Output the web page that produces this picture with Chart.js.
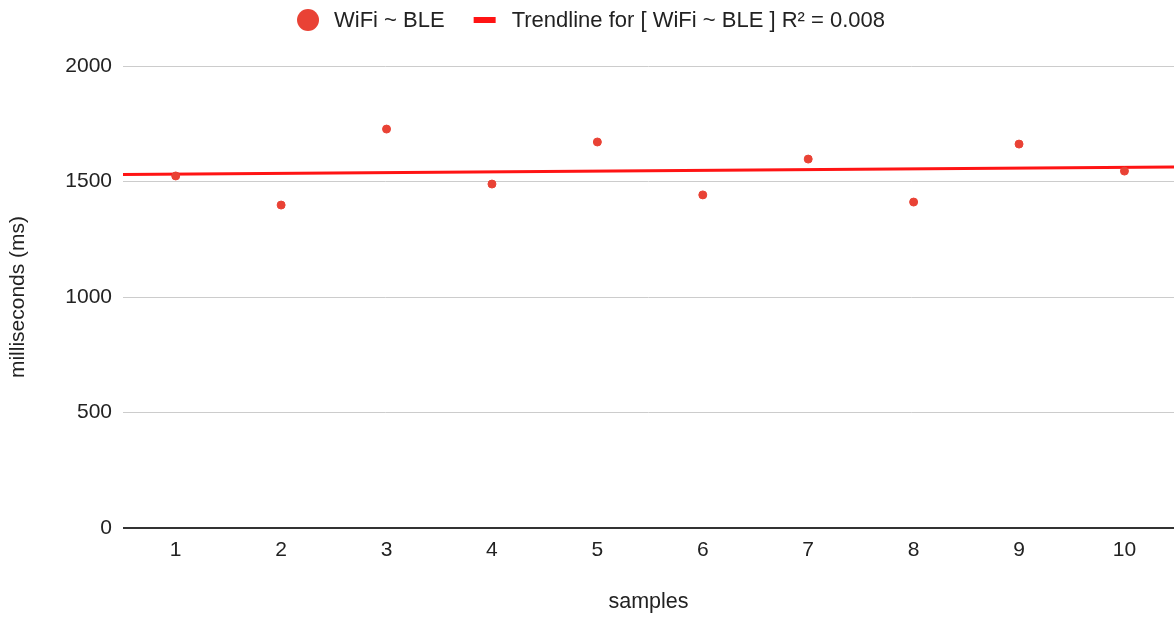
<!DOCTYPE html>
<html>
<head>
<meta charset="utf-8">
<title>WiFi ~ BLE</title>
<script src="https://cdn.jsdelivr.net/npm/chart.js@4"></script>
<style>
  html, body { margin: 0; padding: 0; background: #ffffff; overflow: hidden; }
  #wrap { position: relative; width: 1174px; height: 617px; overflow: hidden; }
  #chart { display: block; }
</style>
</head>
<body>
<div id="wrap"><canvas id="chart" width="1179" height="617"></canvas></div>
<script>
// Sample numbers on the x axis and measured latencies (ms)
const samples = [1, 2, 3, 4, 5, 6, 7, 8, 9, 10];
const wifiBle = [1524, 1398, 1727, 1489, 1671, 1442, 1597, 1411, 1662, 1545];
const yTicks = [0, 500, 1000, 1500, 2000];

const seriesName = 'WiFi ~ BLE';
const FONT = '"Liberation Sans", Arial, sans-serif';
const TEXT = '#222222';
const POINT_COLOR = '#e94235';
const TREND_COLOR = '#ff1414';
const VISIBLE_WIDTH = 1174;

// Least-squares linear trendline and its R²
function linearFit(xs, ys) {
  const n = xs.length;
  const mx = xs.reduce((a, b) => a + b, 0) / n;
  const my = ys.reduce((a, b) => a + b, 0) / n;
  let sxy = 0, sxx = 0, syy = 0;
  for (let i = 0; i < n; i++) {
    sxy += (xs[i] - mx) * (ys[i] - my);
    sxx += (xs[i] - mx) ** 2;
    syy += (ys[i] - my) ** 2;
  }
  const slope = sxy / sxx;
  const intercept = my - slope * mx;
  return { slope, intercept, r2: (sxy * sxy) / (sxx * syy) };
}
const fit = linearFit(samples, wifiBle);
const xMin = 0.5, xMax = 10.47;
const trendPoints = [xMin, xMax].map(x => ({ x, y: fit.intercept + fit.slope * x }));
const trendName = 'Trendline for [ ' + seriesName + ' ] R\u00b2 = ' + fit.r2.toFixed(3);

const points = samples.map((x, i) => ({ x, y: wifiBle[i] }));

// Legend row drawn above the plot: dot marker for the series, bar marker for the trendline
const topLegend = {
  id: 'topLegend',
  afterDraw(chart) {
    const ctx = chart.ctx;
    ctx.save();
    ctx.font = '22px ' + FONT;
    ctx.textBaseline = 'middle';
    ctx.textAlign = 'left';
    const w1 = ctx.measureText(seriesName).width;
    const w2 = ctx.measureText(trendName).width;
    const total = 22 + 15 + w1 + 29 + 22 + 16 + w2;
    let x = (VISIBLE_WIDTH - total) / 2 + 4;
    const y = 20;
    ctx.fillStyle = POINT_COLOR;
    ctx.beginPath();
    ctx.arc(x + 11, y, 11, 0, Math.PI * 2);
    ctx.fill();
    x += 22 + 15;
    ctx.fillStyle = TEXT;
    ctx.fillText(seriesName, x, y + 1);
    x += w1 + 29;
    ctx.fillStyle = TREND_COLOR;
    ctx.fillRect(x, y - 3, 22, 6);
    x += 22 + 16;
    ctx.fillStyle = TEXT;
    ctx.fillText(trendName, x, y + 1);
    ctx.restore();
  }
};

new Chart(document.getElementById('chart'), {
  type: 'scatter',
  data: {
    datasets: [
      {
        label: seriesName,
        data: points,
        backgroundColor: POINT_COLOR,
        borderColor: POINT_COLOR,
        pointRadius: 4,
        pointHoverRadius: 4,
        order: 1
      },
      {
        label: trendName,
        type: 'line',
        data: trendPoints,
        borderColor: TREND_COLOR,
        borderWidth: 3,
        pointRadius: 0,
        fill: false,
        order: 2
      }
    ]
  },
  options: {
    responsive: false,
    animation: false,
    layout: { padding: { top: 66, right: 0, bottom: 0, left: 0 } },
    plugins: {
      tooltip: { enabled: false },
      legend: { display: false }
    },
    scales: {
      x: {
        type: 'linear',
        min: xMin,
        max: xMax,
        afterBuildTicks: (scale) => { scale.ticks = samples.map(v => ({ value: v })); },
        afterFit: (scale) => { scale.height = 89; scale.paddingRight = 0; scale.paddingLeft = 0; },
        grid: { display: false, drawTicks: false },
        border: { display: false },
        ticks: {
          font: { family: FONT, size: 21 },
          color: TEXT,
          padding: 10,
          maxRotation: 0,
          autoSkip: false,
          callback: (v) => String(v)
        },
        title: {
          display: true,
          text: 'samples',
          font: { family: FONT, size: 21.5 },
          color: TEXT,
          padding: { top: 0, bottom: 2 }
        }
      },
      y: {
        min: 0,
        max: 2000,
        afterBuildTicks: (scale) => { scale.ticks = yTicks.map(v => ({ value: v })); },
        afterFit: (scale) => { scale.width = 123; scale.paddingTop = 0; scale.paddingBottom = 0; },
        grid: {
          drawTicks: false,
          color: (ctx) => ctx.tick && ctx.tick.value === 0 ? '#333333' : '#cccccc',
          lineWidth: (ctx) => ctx.tick && ctx.tick.value === 0 ? 2 : 1
        },
        border: { display: false },
        ticks: {
          font: { family: FONT, size: 21 },
          color: TEXT,
          padding: 11,
          callback: (v) => String(v)
        },
        title: {
          display: true,
          text: 'milliseconds (ms)',
          font: { family: FONT, size: 21 },
          color: TEXT,
          padding: { top: 6, bottom: 0 }
        }
      }
    }
  },
  plugins: [topLegend]
});
</script>
</body>
</html>
